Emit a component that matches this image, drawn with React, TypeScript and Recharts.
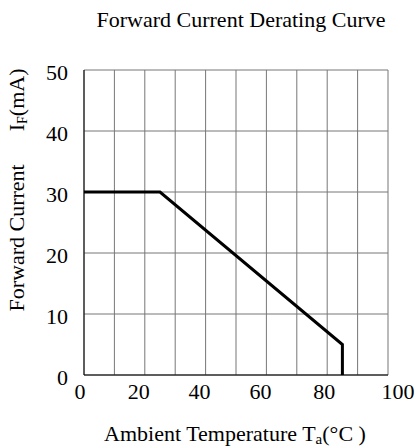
import { LineChart, Line, XAxis, YAxis, CartesianGrid, Label } from 'recharts'

// derating curve points (Ta in °C, IF in mA)
const temps = [0, 25, 85, 85]
const currents = [30, 30, 5, 0]
const xTicks = [0, 10, 20, 30, 40, 50, 60, 70, 80, 90, 100]
const yTicks = [0, 10, 20, 30, 40, 50]

const data = temps.map((t, i) => ({ ta: t, i: currents[i] }))

const font = '"Liberation Serif", "Times New Roman", serif'

// labels in the original sit a little off their gridlines
const xLabelShift: Record<number, number> = { 0: -4, 20: -6, 40: -6, 60: -6, 80: -3, 100: 10 }

const XTick = (props: any) => {
  const { x, y, payload } = props
  if (payload.value % 20 !== 0) return null
  return (
    <text
      x={x + (xLabelShift[payload.value] ?? 0)}
      y={y}
      dy="0.72em"
      textAnchor="middle"
      fontFamily={font}
      fontSize={22}
      fill="#000"
    >
      {payload.value}
    </text>
  )
}

const YTick = (props: any) => {
  const { x, y, payload } = props
  return (
    <text x={x} y={y} dy="0.45em" textAnchor="end" fontFamily={font} fontSize={22} fill="#000">
      {payload.value}
    </text>
  )
}

export default function App() {
  return (
    <div style={{ position: 'absolute', left: 0, top: 0, background: '#fff' }}>
      <LineChart
        width={417}
        height={447}
        data={data}
        margin={{ top: 70, right: 29, bottom: 42, left: 24 }}
      >
        <text x={241} y={27} textAnchor="middle" fontFamily={font} fontSize={22} fill="#000">
          Forward Current Derating Curve
        </text>
        <CartesianGrid stroke="#777" strokeWidth={1} />
        <XAxis
          dataKey="ta"
          type="number"
          domain={[0, 100]}
          ticks={xTicks}
          interval={0}
          height={30}
          tickLine={false}
          tickSize={0}
          tickMargin={8}
          tick={<XTick />}
          axisLine={{ stroke: '#000' }}
        >
          <Label
            content={() => (
              <text x={235} y={441} textAnchor="middle" fontFamily={font} fontSize={22} fill="#000">
                Ambient Temperature T
                <tspan fontSize={15} dy={3}>a</tspan>
                <tspan dy={-3}>(°C )</tspan>
              </text>
            )}
          />
        </XAxis>
        <YAxis
          type="number"
          domain={[0, 50]}
          ticks={yTicks}
          interval={0}
          width={60}
          tickLine={false}
          tickSize={0}
          tickMargin={16}
          tick={<YTick />}
          axisLine={{ stroke: '#000' }}
        >
          <Label
            content={() => (
              <text
                x={24}
                y={190}
                textAnchor="middle"
                transform="rotate(-90 24 190)"
                fontFamily={font}
                fontSize={22}
                fill="#000"
              >
                Forward Current{'\u00a0\u00a0\u00a0\u00a0\u00a0\u00a0'}I
                <tspan fontSize={14} dy={3}>F</tspan>
                <tspan dy={-3}>(mA)</tspan>
              </text>
            )}
          />
        </YAxis>
        <Line
          dataKey="i"
          type="linear"
          stroke="#000"
          strokeWidth={3}
          dot={false}
          isAnimationActive={false}
        />
      </LineChart>
    </div>
  )
}
